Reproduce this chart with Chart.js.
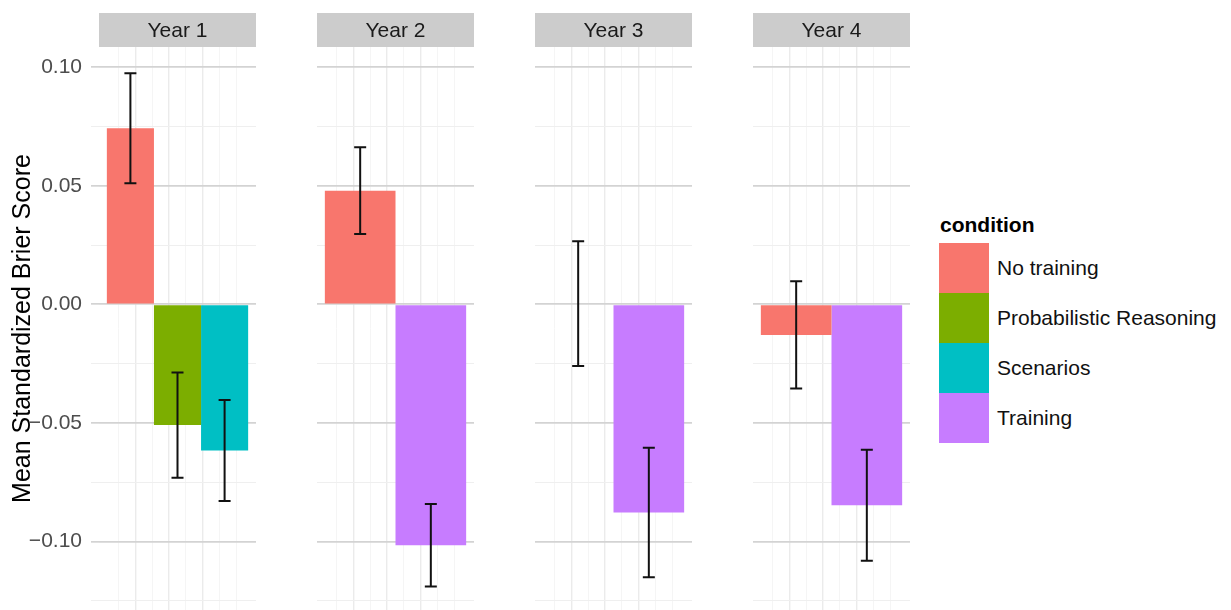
<!DOCTYPE html>
<html>
<head>
<meta charset="utf-8">
<script src="https://cdn.jsdelivr.net/npm/chart.js@4.4.1/dist/chart.umd.min.js"></script>
<style>
  html, body { margin: 0; padding: 0; background: #fff; width: 1231px; height: 610px; overflow: hidden;
               font-family: "Liberation Sans", Arial, sans-serif; }
  .panel { position: absolute; top: 0; }
  .panel canvas { display: block; }
  #legend { position: absolute; left: 939px; top: 0; color: #000; }
  #legend .lt { position: absolute; left: 1px; top: 212px; font-size: 21px; font-weight: bold; line-height: 26px; white-space: nowrap; }
  #legend .item { position: absolute; left: 0; height: 50px; white-space: nowrap; }
  #legend .key { position: absolute; left: 0; top: 0; width: 50px; height: 50px; }
  #legend .lab { position: absolute; left: 58px; top: 0; line-height: 50px; font-size: 21px; color: #111; }
</style>
</head>
<body>
<div class="panel" style="left:0px"><canvas id="p0" width="256" height="610"></canvas></div>
<div class="panel" style="left:317px"><canvas id="p1" width="157" height="610"></canvas></div>
<div class="panel" style="left:535px"><canvas id="p2" width="157" height="610"></canvas></div>
<div class="panel" style="left:753px"><canvas id="p3" width="157" height="610"></canvas></div>
<div id="legend"></div>

<script>
// Facets and fill groups
const years = ['Year 1', 'Year 2', 'Year 3', 'Year 4'];
const conditions = ['No training', 'Probabilistic Reasoning', 'Scenarios', 'Training'];
const conditionColors = ['#F8766D', '#7CAE00', '#00BFC4', '#C77CFF'];

// Mean standardized Brier score per year (null = condition not run that year)
const noTraining    = [0.0742, 0.0479, 0.0003, -0.0129];
const probReasoning = [-0.0509, null, null, null];
const scenarios     = [-0.0616, null, null, null];
const training      = [null, -0.1016, -0.0878, -0.0847];

// Half-width of the error bars
const noTrainingErr    = [0.0232, 0.0183, 0.0263, 0.0226];
const probReasoningErr = [0.0222, null, null, null];
const scenariosErr     = [0.0213, null, null, null];
const trainingErr      = [null, 0.0174, 0.0273, 0.0234];

// Y axis ticks
const yTicks = [-0.125, -0.1, -0.075, -0.05, -0.025, 0, 0.025, 0.05, 0.075, 0.1];
const yMajorTicks = [-0.1, -0.05, 0, 0.05, 0.1];
const yTickLabels = ['\u22120.10', '\u22120.05', '0.00', '0.05', '0.10'];
const yTitle = 'Mean Standardized Brier Score';
const legendTitle = 'condition';

const meanByCondition = [noTraining, probReasoning, scenarios, training];
const errByCondition = [noTrainingErr, probReasoningErr, scenariosErr, trainingErr];

const FONT = '"Liberation Sans", Arial, sans-serif';
const Y_MIN = -0.12888, Y_MAX = 0.10848;

function majorIndex(v) {
  return yMajorTicks.findIndex(m => Math.abs(m - v) < 1e-9);
}

// Grey facet strip above each panel
const stripPlugin = {
  id: 'strip',
  beforeDraw(chart, args, opts) {
    const { ctx, chartArea } = chart;
    ctx.save();
    ctx.fillStyle = '#cccccc';
    ctx.fillRect(chartArea.left, 13, chartArea.right - chartArea.left, 34);
    ctx.fillStyle = '#1a1a1a';
    ctx.font = '21px ' + FONT;
    ctx.textAlign = 'center';
    ctx.textBaseline = 'middle';
    ctx.fillText(opts.text, (chartArea.left + chartArea.right) / 2, 31);
    ctx.restore();
  }
};

// Error bars centred on each bar
const errorBarPlugin = {
  id: 'errorBars',
  afterDatasetsDraw(chart) {
    const { ctx } = chart;
    const yScale = chart.scales.y;
    ctx.save();
    ctx.strokeStyle = '#111111';
    ctx.lineWidth = 2;
    chart.data.datasets.forEach((ds, di) => {
      const el = chart.getDatasetMeta(di).data[0];
      const v = ds.data[0], e = ds.err[0];
      const yHi = yScale.getPixelForValue(v + e);
      const yLo = yScale.getPixelForValue(v - e);
      const x = el.x, cap = 6;
      ctx.beginPath();
      ctx.moveTo(x, yHi); ctx.lineTo(x, yLo);
      ctx.moveTo(x - cap, yHi); ctx.lineTo(x + cap, yHi);
      ctx.moveTo(x - cap, yLo); ctx.lineTo(x + cap, yLo);
      ctx.stroke();
    });
    ctx.restore();
  }
};

function makePanel(idx, withAxis) {
  const datasets = [];
  conditions.forEach((c, ci) => {
    const v = meanByCondition[ci][idx];
    if (v === null) return;
    datasets.push({
      label: c,
      data: [v],
      err: [errByCondition[ci][idx]],
      backgroundColor: conditionColors[ci],
      borderWidth: 0,
      categoryPercentage: 0.9,
      barPercentage: 1.0
    });
  });

  return new Chart(document.getElementById('p' + idx), {
    type: 'bar',
    data: { labels: [years[idx]], datasets },
    options: {
      responsive: false,
      animation: false,
      devicePixelRatio: 1,
      layout: { padding: { top: 47, left: 0, right: 0, bottom: 0 } },
      plugins: {
        legend: { display: false },
        tooltip: { enabled: false },
        strip: { text: years[idx] }
      },
      scales: {
        x: { type: 'category', display: false },
        xg: {
          type: 'linear', position: 'bottom', min: 0, max: 8,
          afterBuildTicks: s => { s.ticks = [1, 2, 3, 4, 5, 6, 7].map(v => ({ value: v })); },
          afterFit: s => { s.height = 0; s.paddingLeft = 0; s.paddingRight = 0; },
          ticks: { display: false },
          border: { display: false },
          grid: {
            drawTicks: false,
            color: c => (c.tick && c.tick.value % 2 === 0) ? '#ebebeb' : '#f5f5f5',
            lineWidth: c => (c.tick && c.tick.value % 2 === 0) ? 1.4 : 1
          }
        },
        y: {
          min: Y_MIN, max: Y_MAX,
          afterBuildTicks: s => { s.ticks = yTicks.map(v => ({ value: v })); },
          afterFit: s => {
            s.width = withAxis ? 99 : 0;
            s.paddingTop = 0; s.paddingBottom = 0;
          },
          border: { display: false },
          grid: {
            drawTicks: withAxis,
            tickLength: 8,
            color: c => (c.tick && majorIndex(c.tick.value) >= 0) ? '#d3d3d3' : '#efefef',
            lineWidth: c => (c.tick && majorIndex(c.tick.value) >= 0) ? 1.7 : 1
          },
          ticks: {
            display: withAxis,
            padding: 9,
            color: '#4d4d4d',
            font: { family: FONT, size: 21 },
            callback: v => { const i = majorIndex(v); return i >= 0 ? yTickLabels[i] : ''; }
          },
          title: {
            display: withAxis,
            text: yTitle,
            color: '#000',
            font: { family: FONT, size: 25 },
            padding: { top: 8, bottom: 0 }
          }
        }
      }
    },
    plugins: [stripPlugin, errorBarPlugin]
  });
}

years.forEach((y, i) => makePanel(i, i === 0));

// Legend for the fill colours
const legend = document.getElementById('legend');
const lt = document.createElement('div');
lt.className = 'lt';
lt.textContent = legendTitle;
legend.appendChild(lt);
conditions.forEach((c, ci) => {
  const item = document.createElement('div');
  item.className = 'item';
  item.style.top = (243 + ci * 50) + 'px';
  const key = document.createElement('span');
  key.className = 'key';
  key.style.background = conditionColors[ci];
  const lab = document.createElement('span');
  lab.className = 'lab';
  lab.textContent = c;
  item.appendChild(key);
  item.appendChild(lab);
  legend.appendChild(item);
});
</script>
</body>
</html>
